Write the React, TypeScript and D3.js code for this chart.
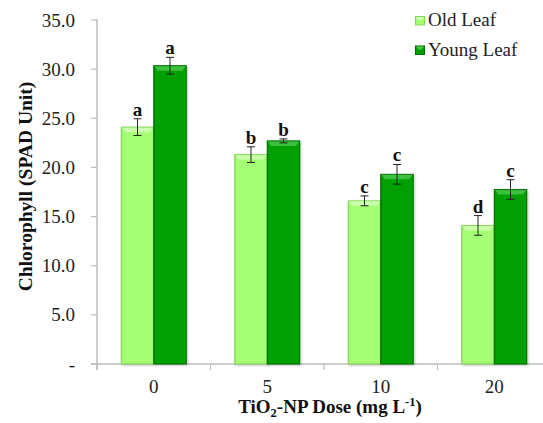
import React from "react";
import * as d3 from "d3";

const categories = ["0", "5", "10", "20"];
const seriesNames = ["Old Leaf", "Young Leaf"];
const oldLeaf = [24.1, 21.3, 16.6, 14.1];
const youngLeaf = [30.35, 22.7, 19.3, 17.75];
const oldErr = [0.85, 0.8, 0.5, 1.0];
const youngErr = [0.85, 0.2, 1.0, 1.0];
const oldLetters = ["a", "b", "c", "d"];
const youngLetters = ["a", "b", "c", "c"];
const yTicks = [0, 5, 10, 15, 20, 25, 30, 35];

const W = 543;
const H = 423;
const left = 97;
const right = 551;
const top = 20;
const bottom = 364;
const FONT = "Times New Roman, Liberation Serif, DejaVu Serif, serif";

const colors = {
  old: { fill: "#a4ff72", stroke: "#86d45c", hi: "#d4ffba" },
  young: { fill: "#00a000", stroke: "#006e00", hi: "#4cc84c" },
};

export default function App() {
  const y = d3.scaleLinear().domain([0, 35]).range([bottom, top]);
  const x = d3.scaleBand().domain(categories).range([left, right]);
  const bw = 32.5;

  const series = [
    { key: "old", vals: oldLeaf, err: oldErr, letters: oldLetters, c: colors.old, off: -bw },
    { key: "young", vals: youngLeaf, err: youngErr, letters: youngLetters, c: colors.young, off: 0 },
  ];
  const tf = { fontFamily: FONT };

  return (
    <svg width={W} height={H} style={{ display: "block", position: "absolute", left: 0, top: 0, fontFamily: FONT }}>
      <defs>
        <filter id="sh" x="-20%" y="-5%" width="140%" height="110%">
          <feDropShadow dx="1" dy="1" stdDeviation="1" floodColor="#000" floodOpacity="0.25" />
        </filter>
      </defs>
      <rect width={W} height={H} fill="#fff" />
      {/* y axis */}
      <line x1={left} x2={left} y1={top - 1} y2={bottom + 6} stroke="#bdbdbd" strokeWidth={1.5} />
      {yTicks.map((t) => (
        <g key={t}>
          <line x1={left - 6} x2={left} y1={y(t)} y2={y(t)} stroke="#bdbdbd" strokeWidth={1.2} />
          <text x={75} y={y(t) + 6.5} textAnchor="end" fontSize={19} fill="#222" style={tf}>
            {t === 0 ? "-" : d3.format(".1f")(t)}
          </text>
        </g>
      ))}
      {/* x axis */}
      <line x1={left - 6} x2={W} y1={bottom} y2={bottom} stroke="#bdbdbd" strokeWidth={1.5} />
      {categories.map((c) => (
        <g key={c}>
          <line x1={x(c)!} x2={x(c)!} y1={bottom} y2={bottom + 6} stroke="#bdbdbd" strokeWidth={1.2} />
          <text x={x(c)! + x.bandwidth() / 2} y={392.5} textAnchor="middle" fontSize={19} fill="#222" style={tf}>
            {c}
          </text>
        </g>
      ))}
      {/* bars */}
      {series.map((s) =>
        categories.map((c, i) => {
          const cx = x(c)! + x.bandwidth() / 2 + s.off;
          const yt = y(s.vals[i]);
          const h = bottom - yt;
          return (
            <g key={s.key + c}>
              <rect x={cx} y={yt} width={bw} height={h} fill={s.c.fill} stroke={s.c.stroke} strokeWidth={1} filter="url(#sh)" />
              <polygon
                points={`${cx + 0.5},${yt + 0.5} ${cx + bw - 0.5},${yt + 0.5} ${cx + bw - 4},${yt + 5} ${cx + 4},${yt + 5}`}
                fill={s.c.hi}
                opacity={0.8}
              />
              <line x1={cx + 0.5} x2={cx + 0.5} y1={yt + 1} y2={bottom} stroke={s.c.stroke} strokeWidth={1} opacity={0.5} />
            </g>
          );
        })
      )}
      {/* error bars and letters */}
      {series.map((s) =>
        categories.map((c, i) => {
          const cx = x(c)! + x.bandwidth() / 2 + s.off + bw / 2;
          const y1 = y(s.vals[i] + s.err[i]);
          const y2 = y(s.vals[i] - s.err[i]);
          return (
            <g key={"e" + s.key + c}>
              <line x1={cx} x2={cx} y1={y1} y2={y2} stroke="#222" strokeWidth={1} />
              <line x1={cx - 4} x2={cx + 4} y1={y1} y2={y1} stroke="#222" strokeWidth={1} />
              <line x1={cx - 4} x2={cx + 4} y1={y2} y2={y2} stroke="#222" strokeWidth={1} />
              <text x={cx} y={y1 - 3} textAnchor="middle" fontSize={19} fontWeight="bold" fill="#111" style={tf}>
                {s.letters[i]}
              </text>
            </g>
          );
        })
      )}
      {/* legend */}
      {series.map((s, i) => (
        <g key={"l" + s.key}>
          <rect x={415.5} y={16.5 + i * 29.5} width={9} height={8.5} fill={s.c.fill} stroke={s.c.stroke} strokeWidth={1} />
          <polygon
            points={`${416},${17 + i * 29.5} ${424},${17 + i * 29.5} ${421.5},${20 + i * 29.5} ${418.5},${20 + i * 29.5}`}
            fill={s.c.hi}
          />
          <text x={428} y={26 + i * 29.5} fontSize={19} fill="#222" style={tf}>
            {seriesNames[i]}
          </text>
        </g>
      ))}
      {/* axis titles */}
      <text
        transform={`translate(32, 186.5) rotate(-90)`}
        textAnchor="middle"
        fontSize={19.5}
        fontWeight="bold"
        fill="#111"
        style={tf}
      >
        Chlorophyll (SPAD Unit)
      </text>
      <text x={330} y={413} textAnchor="middle" fontSize={19} fontWeight="bold" fill="#111" style={tf}>
        TiO<tspan dy={4} fontSize={12.5}>2</tspan>
        <tspan dy={-4}>-NP Dose (mg L</tspan>
        <tspan dy={-7} fontSize={12.5}>-1</tspan>
        <tspan dy={7}>)</tspan>
      </text>
    </svg>
  );
}
